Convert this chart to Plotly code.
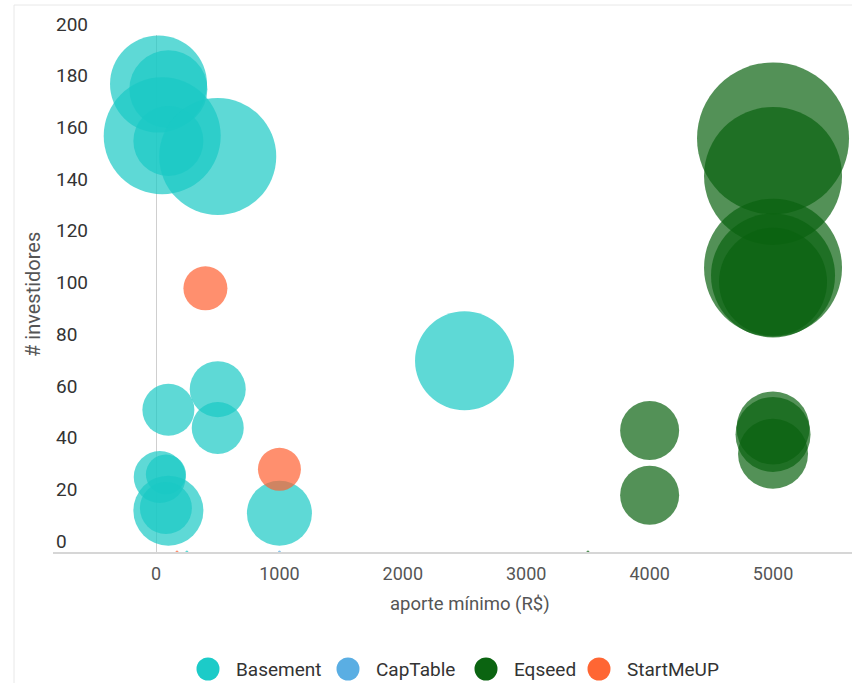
import plotly.graph_objects as go

# ---------------- data ----------------
series_names = ["Basement", "CapTable", "Eqseed", "StartMeUP"]

basement_x = [20, 100, 50, 100, 500, 500, 500, 100, 30, 80, 100, 80, 1000, 2500, 250]
basement_y = [181, 179, 161, 159, 153, 63, 48, 55, 29, 30, 16, 17, 15, 74, 0]
basement_s = [97, 78, 117, 70, 117, 56, 52, 52, 52, 40, 70, 52, 65, 99, 3]

captable_x = [1000]
captable_y = [0]
captable_s = [3]

eqseed_x = [5000, 5000, 5000, 5000, 5000, 4000, 4000, 5000, 5000, 5000, 3500]
eqseed_y = [160, 145.5, 110, 107, 104.5, 47, 22, 48, 45.5, 38, 0]
eqseed_s = [152, 138, 138, 124, 108, 59, 59, 73, 75, 70, 3]

startmeup_x = [400, 1000, 170]
startmeup_y = [102, 32, 0]
startmeup_s = [44, 43, 3]

x_ticks = [0, 1000, 2000, 3000, 4000, 5000]
y_ticks = [0, 20, 40, 60, 80, 100, 120, 140, 160, 180, 200]

x_title = "aporte mínimo (R$)"
y_title = "# investidores"

# ---------------- styling ----------------
colors = {
    "Basement": "#1ac9c4",
    "CapTable": "#5aaee3",
    "Eqseed": "#0a6310",
    "StartMeUP": "#ff5f30",
}
legend_colors = {
    "Basement": "#1ccbc8",
    "CapTable": "#5aaee3",
    "Eqseed": "#0b6411",
    "StartMeUP": "#ff6633",
}

W, H = 852, 683
L, R, T, B = 53, 0, 35, 131
PW = W - L - R
PH = H - T - B


def px2x(px):
    return (px - L) / PW


def py2y(py):
    return (H - B - py) / PH


max_size = max(basement_s + eqseed_s + startmeup_s + captable_s)
sizeref = max_size / 152.0

fig = go.Figure()
data = [
    ("Basement", basement_x, basement_y, basement_s),
    ("CapTable", captable_x, captable_y, captable_s),
    ("Eqseed", eqseed_x, eqseed_y, eqseed_s),
    ("StartMeUP", startmeup_x, startmeup_y, startmeup_s),
]
for name, xs, ys, ss in data:
    fig.add_trace(go.Scatter(
        x=xs, y=ys, mode="markers", name=name,
        cliponaxis=False,
        marker=dict(size=ss, sizemode="diameter", sizeref=sizeref,
                    color=colors[name], opacity=0.7, line=dict(width=0)),
        showlegend=False,
    ))

font_family = "Roboto"

fig.update_layout(
    width=W, height=H, autosize=False,
    margin=dict(l=L, r=R, t=T, b=B, pad=0),
    paper_bgcolor="white", plot_bgcolor="white",
    font=dict(family=font_family),
    xaxis=dict(
        range=[-835, 5640], showgrid=False,
        zeroline=True, zerolinecolor="#cfcfcf", zerolinewidth=1,
        showline=True, linecolor="#d6d6d6", linewidth=1.5,
        tickvals=x_ticks, ticks="",
        tickfont=dict(size=18, color="#555555", family=font_family),
        ticklabelstandoff=5,
    ),
    yaxis=dict(
        range=[0, 200], showgrid=False, zeroline=False, showline=False,
        tickvals=y_ticks, ticks="",
        ticklabelposition="inside", ticklabelshift=-11,
        ticklabeloverflow="allow",
        tickfont=dict(size=19, color="#333333", family=font_family),
    ),
)

shapes = []
# outer card border
shapes.append(dict(type="rect", xref="paper", yref="paper",
                   x0=px2x(14), x1=px2x(W + 20), y0=py2y(5), y1=py2y(H + 20),
                   line=dict(color="#e8e8e8", width=1), fillcolor="rgba(0,0,0,0)",
                   layer="below"))

annotations = []
annotations.append(dict(text=x_title, xref="paper", yref="paper",
                        x=px2x(470), y=py2y(604), showarrow=False,
                        xanchor="center", yanchor="middle",
                        font=dict(size=18.5, color="#555555", family=font_family)))
annotations.append(dict(text=y_title, xref="paper", yref="paper",
                        x=px2x(33), y=py2y(295), showarrow=False, textangle=-90,
                        xanchor="center", yanchor="middle",
                        font=dict(size=20, color="#555555", family=font_family)))

# manual legend
legend_circle_px = [208, 348, 486, 599]
legend_y_px = 669
for name, cx in zip(series_names, legend_circle_px):
    shapes.append(dict(type="circle", xref="paper", yref="paper",
                       xsizemode="pixel", ysizemode="pixel",
                       xanchor=px2x(cx), yanchor=py2y(legend_y_px),
                       x0=-11.5, x1=11.5, y0=-11.5, y1=11.5,
                       fillcolor=legend_colors[name], line=dict(width=0)))
    annotations.append(dict(text=name, xref="paper", yref="paper",
                            x=px2x(cx + 26), y=py2y(legend_y_px), showarrow=False,
                            xanchor="left", yanchor="middle",
                            font=dict(size=19, color="#333333", family=font_family)))

fig.update_layout(shapes=shapes, annotations=annotations)

fig.write_html("out.html")
